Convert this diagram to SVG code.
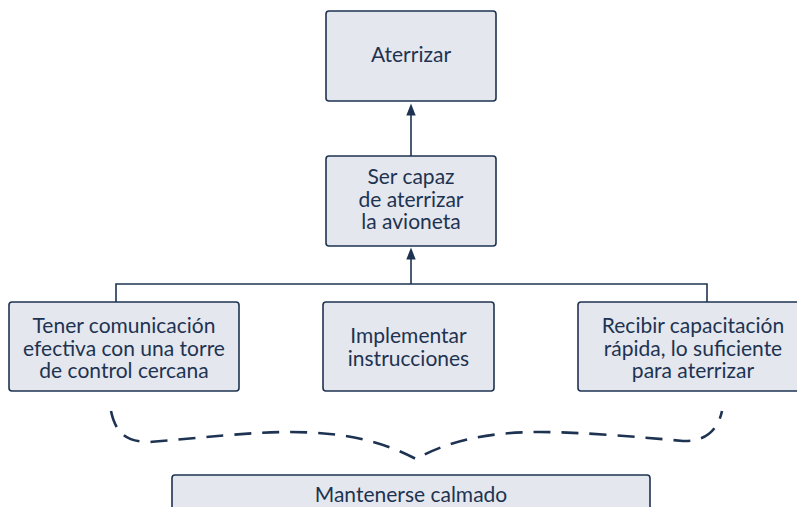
<svg xmlns="http://www.w3.org/2000/svg" width="797" height="507" viewBox="0 0 797 507">
<style>
.box{fill:#e4e7ed;stroke:#1e3352;stroke-width:1.6}
.t{font-family:Lato,"Open Sans",sans-serif;font-size:21px;fill:#1e3352;text-anchor:middle}
.ln{fill:none;stroke:#1e3352;stroke-width:1.6}
.br{fill:none;stroke:#1e3352;stroke-width:2.6;stroke-dasharray:17 11}
.ah{fill:#1e3352}
</style>
<rect width="797" height="507" fill="#ffffff"/>
<g id="connectors">
<path class="ln" d="M411,156 V115" />
<path class="ah" d="M411,103.5 L406.3,115.5 L415.7,115.5 Z"/>
<path class="ln" d="M116,302 V284 H707 V302 M411,284 V258" />
<path class="ah" d="M411,247.5 L406.3,259.5 L415.7,259.5 Z"/>
<path class="br" d="M111,411 C116,435 128,442 150,442 C200,438 250,432 290,432 C340,432 380,440 416,459 C450,440 490,432 540,432 C580,432 640,437 683,441 C705,442 718,430 722,411"/>
</g>
<g id="aterrizar">
<rect class="box" x="326" y="11" width="170" height="90" rx="3"/>
<text class="t" x="411" y="62">Aterrizar</text>
</g>
<g id="ser-capaz">
<rect class="box" x="326" y="156" width="170" height="90" rx="3"/>
<text class="t" x="411" y="184">Ser capaz</text>
<text class="t" x="411" y="206.5">de aterrizar</text>
<text class="t" x="411" y="229">la avioneta</text>
</g>
<g id="comunicacion">
<rect class="box" x="9" y="302" width="230" height="89" rx="3"/>
<text class="t" x="124" y="333">Tener comunicación</text>
<text class="t" x="124" y="355.5">efectiva con una torre</text>
<text class="t" x="124" y="378">de control cercana</text>
</g>
<g id="instrucciones">
<rect class="box" x="323" y="302" width="171" height="89" rx="3"/>
<text class="t" x="408.5" y="343">Implementar</text>
<text class="t" x="408.5" y="366">instrucciones</text>
</g>
<g id="capacitacion">
<rect class="box" x="578" y="302" width="230" height="89" rx="3"/>
<text class="t" x="693" y="333">Recibir capacitación</text>
<text class="t" x="693" y="355.5">rápida, lo suficiente</text>
<text class="t" x="693" y="378">para aterrizar</text>
</g>
<g id="calmado">
<rect class="box" x="172" y="475" width="478" height="50" rx="3"/>
<text class="t" x="411" y="502">Mantenerse calmado</text>
</g>
</svg>
